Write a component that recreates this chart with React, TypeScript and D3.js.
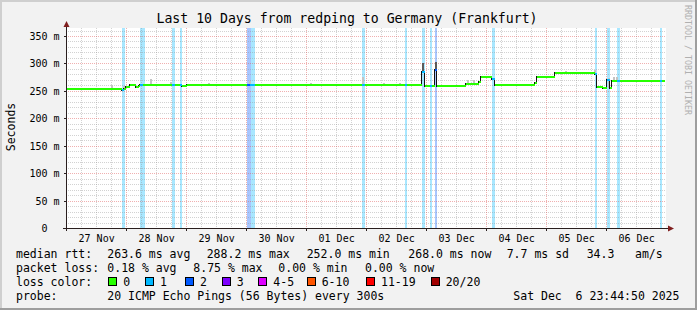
import React from 'react';
import * as d3 from 'd3';

const W = 697;
const H = 310;

// ---------- data ----------
const windowStart = '11-26 23:45';
const windowEnd = '12-06 23:45';

const medianTimes = [
  '11-26 23:45', '11-27 22:09', '11-27 22:57', '11-27 23:45', '11-28 01:21', '11-28 03:45',
  '11-28 04:57', '11-28 05:21', '11-28 06:33', '11-28 18:09', '11-28 19:21', '11-28 21:21',
  '11-28 22:09', '11-29 00:09', '11-30 00:09', '11-30 01:21', '11-30 03:21', '12-01 22:09',
  '12-01 23:21', '12-02 15:21', '12-02 16:09', '12-02 22:09', '12-02 23:21', '12-03 01:21',
  '12-03 02:09', '12-03 03:21', '12-03 04:09', '12-03 15:45', '12-03 20:57', '12-03 21:45',
  '12-04 02:09', '12-04 03:21', '12-04 19:21', '12-04 20:09', '12-05 03:21', '12-05 19:21',
  '12-05 20:09', '12-05 22:33', '12-06 00:09', '12-06 01:21', '12-06 02:09', '12-06 04:09',
  '12-06 05:21', '12-06 21:21', '12-06 22:09', '12-06 23:21',
];
const medianValues = [
  252.5, 251, 254, 256.5, 261.5, 256.5,
  259, 260, 261.5, 261.5, 261.5, 261.5,
  259.5, 261.5, 261.5, 261.5, 261.5, 261.5,
  261.5, 261.5, 261.5, 284, 259, 259,
  259, 288, 259.5, 262, 266.5, 276,
  271, 261, 265, 275.5, 283, 280,
  257.5, 255, 270, 255, 268, 268,
  268, 268, 268, 268,
];
const medianLoss = [
  0, 1, 0, 0, 0, 0,
  0, 1, 0, 1, 0, 1,
  0, 0, 2, 1, 0, 1,
  0, 1, 0, 1, 0, 1,
  0, 2, 0, 0, 0, 0,
  1, 0, 0, 0, 0, 1,
  0, 0, 1, 0, 0, 1,
  0, 1, 0, 0,
];

const lossBarStart = [
  '11-27 22:09', '11-28 05:21', '11-28 18:09', '11-28 21:21', '11-30 00:09', '11-30 01:45',
  '12-01 22:09', '12-02 15:21', '12-02 22:09', '12-03 01:21', '12-03 03:21', '12-04 02:09',
  '12-05 19:21', '12-06 00:09', '12-06 04:09', '12-06 21:21',
];
const lossBarEnd = [
  '11-27 23:21', '11-28 07:21', '11-28 19:21', '11-28 22:09', '11-30 01:45', '11-30 03:21',
  '12-01 23:21', '12-02 16:09', '12-02 23:21', '12-03 02:09', '12-03 04:09', '12-04 03:21',
  '12-05 20:09', '12-06 01:21', '12-06 05:21', '12-06 22:09',
];
const lossBarCount = [1, 1, 1, 1, 2, 1, 1, 1, 1, 1, 2, 1, 1, 1, 1, 1];

const smokeTimes = [
  '11-27 17:45', '11-27 22:33', '11-28 09:21', '11-28 17:21', '11-29 08:33', '11-30 00:57',
  '12-01 01:21', '12-01 22:09', '12-02 06:33', '12-02 12:57', '12-03 16:09', '12-03 18:33',
  '12-05 07:21', '12-05 18:57', '12-06 00:33', '12-06 02:33', '12-06 03:45',
];
const smokeLow = [253, 252, 261.5, 261.5, 261.5, 261.5, 261.5, 261.5, 261, 261, 260, 262, 283, 283, 255, 268, 268];
const smokeHigh = [261, 258, 272, 267, 265, 268, 264, 276, 264, 264, 270, 270, 287, 288, 273, 275, 275];

const spikeTimes = ['12-02 22:09', '12-03 03:21'];
const spikeLow = [284, 288];
const spikeHigh = [300, 302];

const yTicks = [0, 50, 100, 150, 200, 250, 300, 350];
const yTickLabels = ['0', '50 m', '100 m', '150 m', '200 m', '250 m', '300 m', '350 m'];
const dayLabels = ['27 Nov', '28 Nov', '29 Nov', '30 Nov', '01 Dec', '02 Dec', '03 Dec', '04 Dec', '05 Dec', '06 Dec'];

const lossColors = ['#26ff00', '#00b8ff', '#0059ff', '#7e00ff', '#dd00ff', '#ff5500', '#ff0000', '#a10000'];
const lossLabels = ['0', '1', '2', '3', '4-5', '6-10', '11-19', '20/20'];

const rttStats = ['263.6 ms avg', '288.2 ms max', '252.0 ms min', '268.0 ms now', '7.7 ms sd', '34.3', 'am/s'];
const lossStats = ['0.18 % avg', '8.75 % max', '0.00 % min', '0.00 % now'];

const title = 'Last 10 Days from redping to Germany (Frankfurt)';
const probeText = '20 ICMP Echo Pings (56 Bytes) every 300s';
const dateText = 'Sat Dec  6 23:44:50 2025';

// ---------- layout ----------
const parse = d3.timeParse('%Y-%m-%d %H:%M');
const T = (s: string) => parse('2025-' + s) as Date;

const PL = 66, PR = 666, PT = 28, PB = 228;
const MONO = "'DejaVu Sans Mono', monospace";

export default function App() {
  const x = d3.scaleTime().domain([T(windowStart), T(windowEnd)]).range([PL, PR]);
  const y = d3.scaleLinear().domain([0, 200 / (192 / 350)]).range([PB, PT]);
  const sx = (d: Date) => Math.floor(x(d)) + 0.5;
  const sy = (v: number) => Math.round(y(v)) + 0.5;

  const t0 = T(windowStart), t1 = T(windowEnd);
  const sixHours = d3.timeHour.every(6)!.range(t0, t1).filter((d) => d.getHours() !== 0);
  const midnights = d3.timeDay.range(t0, t1);
  const noons = midnights.map((d) => d3.timeHour.offset(d, 12));
  const minorY = d3.range(10, 365, 10).filter((v) => v % 50 !== 0);

  const gridColor = 'rgba(143,143,143,0.4)';
  const mgridColor = 'rgba(222,79,79,0.45)';

  const mt = medianTimes.map(T);
  const segs = mt.slice(0, -1).map((d, i) => ({
    x0: Math.round(x(d)),
    x1: Math.round(x(mt[i + 1])),
    yy: Math.round(y(medianValues[i])),
    loss: medianLoss[i],
  }));

  const legendX = [16, 107.3, 206.7, 306.7, 408.3, 506.7, 586.7, 635];
  const lossX = [16, 107.3, 193.3, 278.3, 365];
  const boxX = [108.3, 145, 185, 221.7, 258.3, 306.7, 366, 430.7];

  return (
    <svg width={W} height={H} style={{ display: 'block', position: 'absolute', left: 0, top: 0 }} fontFamily={MONO}>
      <rect x={0} y={0} width={W} height={H} fill="#f2f2f2" />
      {/* frame */}
      <rect x={0} y={0} width={W} height={2} fill="#cfcfcf" />
      <rect x={0} y={0} width={2} height={H} fill="#cfcfcf" />
      <rect x={0} y={H - 2} width={W} height={2} fill="#9e9e9e" />
      <rect x={W - 2} y={0} width={2} height={H} fill="#9e9e9e" />

      {/* canvas */}
      <rect x={PL} y={PT} width={PR - PL} height={PB - PT} fill="#ffffff" />

      {/* loss backgrounds */}
      {lossBarStart.map((s, i) => {
        const a = Math.round(x(T(s)));
        const b = Math.round(x(T(lossBarEnd[i])));
        return (
          <rect key={'lb' + i} x={a} y={PT} width={Math.max(1, b - a)} height={PB - PT}
            fill={lossColors[lossBarCount[i]]} fillOpacity={0.34} />
        );
      })}

      {/* minor grid */}
      {sixHours.map((d, i) => (
        <line key={'gv' + i} x1={sx(d)} x2={sx(d)} y1={PT} y2={PB} stroke={gridColor} strokeDasharray="1,1" />
      ))}
      {minorY.map((v, i) => (
        <line key={'gh' + i} x1={PL} x2={PR} y1={sy(v)} y2={sy(v)} stroke={gridColor} strokeDasharray="1,1" />
      ))}
      {/* major grid */}
      {midnights.map((d, i) => (
        <line key={'mv' + i} x1={sx(d)} x2={sx(d)} y1={PT} y2={PB} stroke={mgridColor} strokeDasharray="1,1" />
      ))}
      {yTicks.slice(1).map((v, i) => (
        <line key={'mh' + i} x1={PL} x2={PR} y1={sy(v)} y2={sy(v)} stroke={mgridColor} strokeDasharray="1,1" />
      ))}

      {/* smoke */}
      {smokeTimes.map((s, i) => {
        const a = Math.round(x(T(s)));
        const top = Math.round(y(smokeHigh[i]));
        const bot = Math.round(y(smokeLow[i]));
        return <rect key={'sm' + i} x={a} y={top} width={2} height={Math.max(1, bot - top)} fill="#c4c4c4" />;
      })}
      {spikeTimes.map((s, i) => {
        const a = Math.round(x(T(s)));
        const top = Math.round(y(spikeHigh[i]));
        const bot = Math.round(y(spikeLow[i]));
        return <rect key={'sp' + i} x={a} y={top} width={2} height={Math.max(1, bot - top)} fill="#5a5a5a" />;
      })}

      {/* median step edges */}
      {segs.slice(1).map((sg, i) => {
        const prev = segs[i];
        if (prev.yy === sg.yy) return null;
        const xx = sg.x0 - 0.5;
        return (
          <line key={'st' + i} x1={xx} x2={xx} y1={Math.min(prev.yy, sg.yy) - 1} y2={Math.max(prev.yy, sg.yy) + 1}
            stroke="#111" strokeWidth={1} />
        );
      })}
      {/* median colored by loss */}
      {segs.map((sg, i) => (
        <rect key={'md' + i} x={sg.x0} y={sg.yy - 1} width={Math.max(1, sg.x1 - sg.x0)} height={2}
          fill={lossColors[sg.loss]} />
      ))}

      {/* axes */}
      <line x1={PL + 0.5} x2={PL + 0.5} y1={24} y2={PB + 3} stroke="#2a1f1f" />
      <line x1={PL - 3} x2={669} y1={PB + 0.5} y2={PB + 0.5} stroke="#2a1f1f" />
      {yTicks.map((v, i) => (
        <line key={'yt' + i} x1={PL - 2} x2={PL} y1={sy(v)} y2={sy(v)} stroke="#2a1f1f" />
      ))}
      {midnights.map((d, i) => (
        <line key={'xt' + i} x1={sx(d)} x2={sx(d)} y1={PB} y2={PB + 3} stroke="#2a1f1f" />
      ))}
      <polygon points={`63.5,27 69.5,27 66.5,21`} fill="#801f1f" />
      <polygon points={`668,225.5 668,231.5 674,228.5`} fill="#801f1f" />

      {/* y labels */}
      {yTicks.map((v, i) => {
        const lbl = yTickLabels[i];
        const pad = lbl.endsWith(' m') ? 0 : 2 * 10 * 0.602;
        return (
          <text key={'yl' + i} x={59.5 - pad} y={Math.round(y(v)) + 4} fontSize={10} textAnchor="end" fill="#000">
            {lbl}
          </text>
        );
      })}
      {/* x labels */}
      {noons.map((d, i) => (
        <text key={'xl' + i} x={x(d)} y={241.5} fontSize={10} textAnchor="middle" fill="#000">
          {dayLabels[i]}
        </text>
      ))}

      {/* title */}
      <text x={347} y={23} fontSize={13.2} textAnchor="middle" fill="#000">{title}</text>
      {/* y title */}
      <text transform="translate(15,127) rotate(-90)" fontSize={11.5} textAnchor="middle" fill="#000">Seconds</text>
      {/* watermark */}
      <text transform="translate(685,5) rotate(90)" fontSize={8.3} fill="#b0b0b0">RRDTOOL / TOBI OETIKER</text>

      {/* legend */}
      <g fontSize={11.5} fill="#000">
        <text x={legendX[0]} y={258}>median rtt:</text>
        {rttStats.map((s, i) => (
          <text key={'r' + i} x={legendX[i + 1]} y={258}>{s}</text>
        ))}
        <text x={lossX[0]} y={272}>packet loss:</text>
        {lossStats.map((s, i) => (
          <text key={'l' + i} x={lossX[i + 1]} y={272}>{s}</text>
        ))}
        <text x={16} y={286}>loss color:</text>
        {lossLabels.map((s, i) => (
          <g key={'c' + i}>
            <rect x={Math.round(boxX[i]) + 0.5} y={277.5} width={8} height={8} fill={lossColors[i]} stroke="#000" />
            <text x={boxX[i] + 15} y={286}>{s}</text>
          </g>
        ))}
        <text x={16} y={300}>probe:</text>
        <text x={107.3} y={300}>{probeText}</text>
        <text x={513.3} y={300} style={{ whiteSpace: 'pre' }}>{dateText}</text>
      </g>
    </svg>
  );
}
